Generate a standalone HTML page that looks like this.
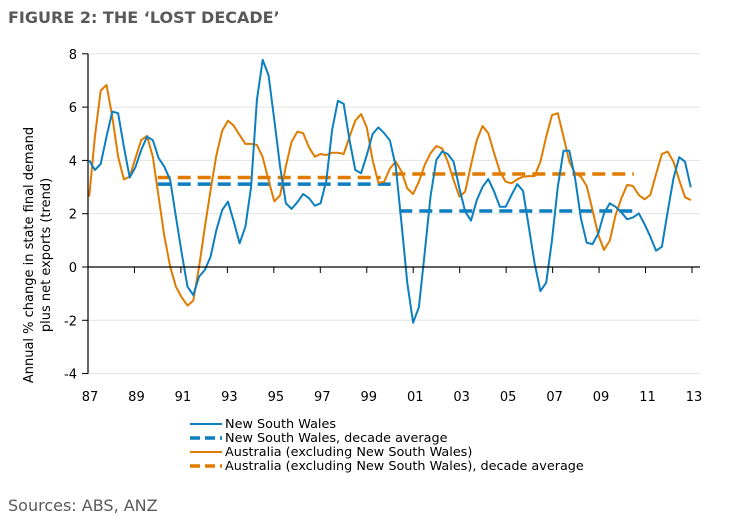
<!DOCTYPE html>
<html><head><meta charset="utf-8"><style>
body{margin:0;background:#fff;width:734px;height:527px;overflow:hidden;font-family:"Liberation Sans",Verdana,sans-serif;}
svg text{font-family:"DejaVu Sans","Liberation Sans",sans-serif;}
</style></head><body>
<svg id="chart" width="734" height="527" xmlns="http://www.w3.org/2000/svg">
<text x="8" y="23" font-size="16" font-weight="bold" fill="#595959">FIGURE 2: THE ‘LOST DECADE’</text>
<g id="grid"></g>
<g id="series"></g>
<g id="axes"></g>
<g font-size="13" fill="#000">
<text transform="translate(33,255) rotate(-90)" text-anchor="middle">Annual % change in state final demand</text>
<text transform="translate(50,255) rotate(-90)" text-anchor="middle">plus net exports (trend)</text>
</g>
<g id="legend" font-size="12.8"></g>
<text x="8" y="511" font-size="16" fill="#595959">Sources: ABS, ANZ</text>
</svg>
<script>
const startYear = 1987.05;
const endYear = 2012.95;
const nswValues = [4.0,3.64,3.87,4.89,5.83,5.77,4.51,3.36,3.74,4.39,4.89,4.76,4.09,3.76,3.26,1.89,0.52,-0.74,-1.05,-0.36,-0.11,0.39,1.39,2.14,2.45,1.70,0.89,1.51,3.01,6.27,7.77,7.20,5.52,3.76,2.39,2.18,2.43,2.74,2.58,2.30,2.39,3.26,5.14,6.24,6.12,4.76,3.64,3.52,4.20,4.99,5.24,5.02,4.74,3.76,1.6,-0.6,-2.09,-1.51,0.53,2.64,4.01,4.33,4.24,3.95,2.95,2.08,1.74,2.51,3.01,3.30,2.83,2.26,2.26,2.70,3.11,2.86,1.51,0.14,-0.90,-0.59,1.01,3.01,4.36,4.36,3.33,1.83,0.91,0.86,1.26,2.01,2.39,2.26,2.05,1.79,1.86,2.01,1.61,1.14,0.61,0.76,2.08,3.33,4.12,3.95,2.99];
const ausValues = [2.64,4.89,6.62,6.83,5.64,4.14,3.29,3.39,4.08,4.76,4.92,4.14,2.64,1.14,0.01,-0.74,-1.14,-1.45,-1.26,0.01,1.51,2.89,4.20,5.11,5.49,5.30,4.95,4.62,4.62,4.58,4.12,3.26,2.46,2.69,3.79,4.70,5.08,5.02,4.49,4.14,4.24,4.20,4.29,4.29,4.24,4.89,5.49,5.74,5.24,4.01,3.16,3.20,3.70,3.95,3.58,2.95,2.74,3.20,3.83,4.27,4.54,4.45,3.95,3.26,2.64,2.83,3.83,4.76,5.29,5.02,4.27,3.58,3.20,3.14,3.29,3.39,3.41,3.41,3.95,4.89,5.70,5.77,4.89,3.95,3.52,3.39,3.04,2.14,1.20,0.64,0.99,1.95,2.58,3.08,3.04,2.70,2.54,2.70,3.49,4.24,4.33,3.95,3.26,2.62,2.51];
const nswAvg = [{from:1990.0,to:2000.1,value:3.11},{from:2000.4,to:2010.7,value:2.10}];
const ausAvg = [{from:1990.0,to:1999.6,value:3.36},{from:2000.1,to:2010.5,value:3.49}];
const yTicks = [8,6,4,2,0,-2,-4];
const xTickYears = [1987,1989,1991,1993,1995,1997,1999,2001,2003,2005,2007,2009,2011,2013];
const xTickLabels = ["87","89","91","93","95","97","99","01","03","05","07","09","11","13"];
const legendLabels = ["New South Wales","New South Wales, decade average","Australia (excluding New South Wales)","Australia (excluding New South Wales), decade average"];

const NS='http://www.w3.org/2000/svg';
const BLUE='#0b7fc0', ORANGE='#e07b00';
const X0=88, PXY=23.23, Y0=267, PXU=26.65;
const xs=y=>X0+(y-1987)*PXY;
const ys=v=>Y0-v*PXU;
function mk(tag,attrs,parent){const e=document.createElementNS(NS,tag);for(const k in attrs)e.setAttribute(k,attrs[k]);parent.appendChild(e);return e;}
const grid=document.getElementById('grid'),axes=document.getElementById('axes'),ser=document.getElementById('series'),leg=document.getElementById('legend');

yTicks.forEach(t=>{
  if(t!==0){const g=mk('line',{x1:X0,x2:700,y1:ys(t),y2:ys(t),stroke:'#e3e3e3','stroke-width':1},grid);
  
  }
  const tk=mk('line',{x1:X0-6,x2:X0,y1:ys(t),y2:ys(t),stroke:'#000','stroke-width':1},axes);
  
  
  const tx=mk('text',{x:X0-11,y:ys(t)+5,'text-anchor':'end','font-size':13},axes);
  tx.textContent=t;
  
  
});
const ya=mk('line',{x1:X0,x2:X0,y1:ys(8),y2:ys(-4),stroke:'#000','stroke-width':1.2},axes);


const xa=mk('line',{x1:X0,x2:700,y1:Y0,y2:Y0,stroke:'#000','stroke-width':1.2},axes);


xTickYears.forEach((yr,i)=>{
  const tk=mk('line',{x1:xs(yr),x2:xs(yr),y1:Y0,y2:Y0+6,stroke:'#000','stroke-width':1},axes);
  
  
  const tx=mk('text',{x:xs(yr)+2,y:401,'text-anchor':'middle','font-size':13},axes);
  tx.textContent=xTickLabels[i];
  
  
});

function yearAt(i,n){return startYear+i*(endYear-startYear)/(n-1);}
function drawAvg(arr,color,name){arr.forEach(a=>{
  const l=mk('line',{x1:xs(a.from),x2:xs(a.to),y1:ys(a.value),y2:ys(a.value),stroke:color,'stroke-width':3.5,'stroke-dasharray':'13,7'},ser);
  
  
});}
function drawLine(vals,color,name){
  const pts=vals.map((v,i)=>xs(yearAt(i,vals.length)).toFixed(1)+','+ys(v).toFixed(1)).join(' ');
  const p=mk('polyline',{points:pts,fill:'none',stroke:color,'stroke-width':2,'stroke-linejoin':'round'},ser);
  
  
}
drawAvg(ausAvg,ORANGE,'aus-decade-average');
drawAvg(nswAvg,BLUE,'nsw-decade-average');
drawLine(ausValues,ORANGE,'aus-line');
drawLine(nswValues,BLUE,'nsw-line');

const legStyles=[[BLUE,2,''],[BLUE,3.5,'10,5'],[ORANGE,2,''],[ORANGE,3.5,'10,5']];
legendLabels.forEach((lab,i)=>{
  const y=424+i*14;
  const g=mk('g',{},leg);
  
  
  const a={x1:190,x2:222,y1:y,y2:y,stroke:legStyles[i][0],'stroke-width':legStyles[i][1]};
  if(legStyles[i][2])a['stroke-dasharray']=legStyles[i][2];
  mk('line',a,g);
  const t=mk('text',{x:225,y:y+4},g);
  t.textContent=lab;
});
</script>
</body></html>
